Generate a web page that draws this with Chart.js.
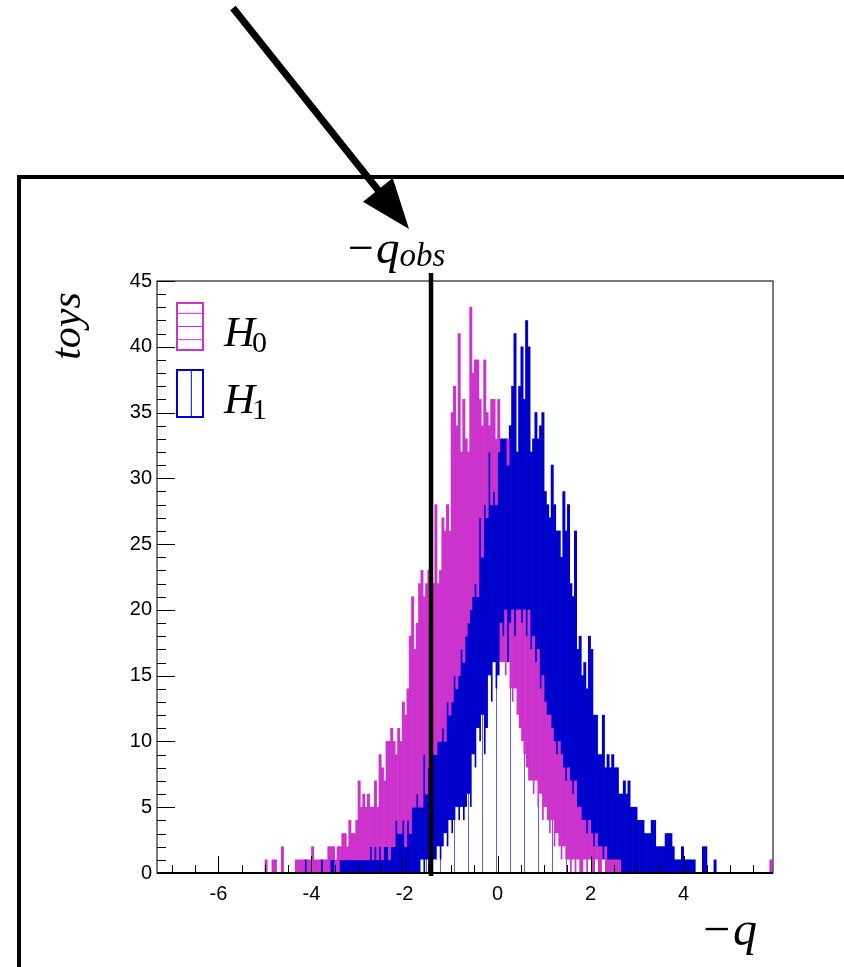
<!DOCTYPE html>
<html>
<head>
<meta charset="utf-8">
<title>toys vs -q</title>
<script src="https://cdn.jsdelivr.net/npm/chart.js@4.4.1/dist/chart.umd.min.js"></script>
<style>
  html, body { margin: 0; padding: 0; background: #fff; }
  #wrap { width: 844px; height: 967px; }
</style>
</head>
<body>
<div id="wrap"><canvas id="toyChart"></canvas></div>
<script>
// Bin width of the toy histograms (in -q)
const binWidth = 0.05;

// H0 toys, first bin starts at -5.00
const h0Start = -5.0;
const h0Counts = [
  1, 0, 0, 1, 1, 0, 0, 2, 0, 0, 0, 0, 0, 1, 1, 1, 1, 0, 1, 1,
  2, 1, 1, 1, 0, 1, 1, 2, 2, 2, 1, 2, 2, 3, 3, 2, 4, 3, 3, 4,
  7, 5, 6, 5, 6, 5, 5, 7, 5, 9, 8, 7, 10, 10, 11, 10, 9, 11, 10, 13,
  12, 14, 18, 21, 17, 19, 22, 23, 21, 22, 23, 24, 22, 28, 22, 23, 27, 26, 28, 26,
  35, 37, 34, 41, 32, 36, 33, 32, 43, 38, 39, 39, 36, 34, 39, 35, 34, 36, 36, 33,
  36, 19, 18, 20, 33, 19, 20, 18, 20, 20, 19, 20, 18, 20, 17, 18, 16, 17, 14, 15,
  13, 12, 12, 11, 10, 9, 10, 9, 8, 7, 8, 7, 6, 7, 5, 5, 4, 4, 3, 4,
  3, 2, 3, 2, 2, 1, 2, 1, 1, 1, 1, 1, 1
];
// lone H0 toy far out on the right
const h0LoneBins = [5.85];
const h0LoneCounts = [1];

// H1 toys, first bin starts at -4.30
const h1Start = -4.3;
const h1Counts = [
  0, 1, 1, 1, 0, 0, 0, 1, 0, 1, 1, 0, 1, 0, 1, 1, 1, 0, 1, 1,
  1, 1, 1, 1, 1, 1, 1, 1, 1, 1, 1, 2, 1, 2, 1, 2, 1, 2, 2, 1,
  2, 2, 4, 3, 3, 4, 2, 4, 3, 5, 5, 6, 5, 5, 9, 6, 8, 8, 9, 9,
  10, 10, 11, 10, 13, 12, 13, 15, 14, 15, 17, 16, 18, 19, 20, 21, 22, 21, 27, 24,
  28, 27, 32, 28, 29, 28, 32, 33, 33, 33, 31, 34, 37, 41, 32, 37, 40, 36, 42, 40,
  32, 33, 35, 33, 34, 35, 29, 28, 27, 31, 28, 26, 26, 24, 29, 26, 28, 22, 21, 26,
  17, 18, 15, 16, 14, 18, 17, 12, 12, 9, 9, 12, 8, 9, 8, 9, 8, 8, 6, 6,
  7, 6, 7, 5, 5, 5, 4, 4, 4, 3, 3, 3, 4, 4, 2, 2, 2, 2, 3, 3,
  3, 2, 1, 1, 1, 2, 1, 1, 1, 1, 1, 0, 0, 0, 2, 2, 0, 0, 0, 1
];

// unfilled (white) part under both curves, first bin starts at -1.70
const gapStart = -1.7;
const gapCounts = [
  0, 1, 0, 1, 0, 1, 1, 1, 2, 1, 2, 3, 2, 4, 3, 4, 5, 4, 5, 4,
  5, 6, 5, 9, 8, 11, 10, 12, 9, 11, 15, 13, 16, 14, 15, 16, 16, 15, 16, 14,
  13, 14, 12, 11, 10, 9, 8, 7, 7, 6, 7, 5, 6, 4, 5, 4, 3, 4, 2, 3,
  2, 1, 2, 1, 1, 0, 1, 0, 1, 0, 0, 1, 0, 1, 0, 0, 1, 0, 0, 1
];

const qObs = -1.43;
const xMin = -7.32, xMax = 5.92;
const xTickValues = [-6, -4, -2, 0, 2, 4];
const yTickValues = [0, 5, 10, 15, 20, 25, 30, 35, 40, 45];

const MAGENTA = '#cc33cc';
const BLUE = '#0000cc';

// bin index -> count
function toBins(start, counts) {
  const m = new Map();
  const k0 = Math.round(start / binWidth);
  counts.forEach((c, i) => m.set(k0 + i, c));
  return m;
}
const h0Bins = toBins(h0Start, h0Counts);
h0LoneBins.forEach((q, i) => h0Bins.set(Math.round(q / binWidth), h0LoneCounts[i]));
const h1Bins = toBins(h1Start, h1Counts);
const gapBins = toBins(gapStart, gapCounts);

const allKeys = [...h0Bins.keys(), ...h1Bins.keys(), ...gapBins.keys()];
const kLo = Math.min(...allKeys), kHi = Math.max(...allKeys);

// the lowest bar of a bin is painted on top: split every bin into visible pieces
const segGap = [], segH0 = [], segH1 = [];
for (let k = kLo; k <= kHi; k++) {
  const x = Math.round((k + 0.5) * binWidth * 1000) / 1000;
  const parts = [
    { key: 'gap', v: gapBins.get(k) || 0 },
    { key: 'h0', v: h0Bins.get(k) || 0 },
    { key: 'h1', v: h1Bins.get(k) || 0 }
  ].sort((a, b) => a.v - b.v);
  const out = {};
  let prev = 0;
  parts.forEach(p => {
    if (p.v > prev) { out[p.key] = [prev, p.v]; prev = p.v; }
    else out[p.key] = null;
  });
  segGap.push({ x: x, y: out.gap });
  segH0.push({ x: x, y: out.h0 });
  segH1.push({ x: x, y: out.h1 });
}

// thin vertical hatch lines seen inside the unfilled area
function hatchPattern() {
  const c = document.createElement('canvas');
  c.width = 14; c.height = 4;
  const g = c.getContext('2d');
  g.fillStyle = '#ffffff';
  g.fillRect(0, 0, 14, 4);
  g.fillStyle = 'rgba(40,40,210,0.75)';
  g.fillRect(6, 0, 1, 4);
  return g.createPattern(c, 'repeat');
}

Chart.defaults.font.family = "'Liberation Sans', Arial, sans-serif";
Chart.defaults.color = '#000';

const decorations = {
  id: 'decorations',
  beforeDraw(chart) {
    const ctx = chart.ctx;
    ctx.save();
    ctx.fillStyle = '#fff';
    ctx.fillRect(0, 0, chart.width, chart.height);
    ctx.restore();
  },
  afterDatasetsDraw(chart) {
    const ctx = chart.ctx;
    const a = chart.chartArea;
    const xs = chart.scales.x, ys = chart.scales.y;
    ctx.save();

    // frame
    ctx.strokeStyle = '#222';
    ctx.lineWidth = 1.2;
    ctx.strokeRect(a.left, a.top, a.right - a.left, a.bottom - a.top);

    // inward ticks
    ctx.lineWidth = 1;
    ctx.strokeStyle = '#000';
    ctx.beginPath();
    for (let v = 0; v <= 45; v++) {
      const y = Math.round(ys.getPixelForValue(v)) + 0.5;
      const len = v % 5 === 0 ? 18 : 9;
      ctx.moveTo(a.left, y); ctx.lineTo(a.left + len, y);
    }
    for (let v = -7; v <= 5.5; v += 0.5) {
      const x = Math.round(xs.getPixelForValue(v)) + 0.5;
      const len = v % 2 === 0 ? 17 : 8;
      ctx.moveTo(x, a.bottom); ctx.lineTo(x, a.bottom - len);
    }
    ctx.stroke();
    ctx.lineWidth = 2;
    ctx.beginPath();
    ctx.moveTo(a.left, a.bottom); ctx.lineTo(a.right, a.bottom);
    ctx.stroke();

    // observed value
    const xo = xs.getPixelForValue(qObs);
    ctx.lineWidth = 4.5;
    ctx.beginPath();
    ctx.moveTo(xo, a.top - 8);
    ctx.lineTo(xo, a.bottom + 3);
    ctx.stroke();

    // legend
    const entries = [
      { ds: chart.data.datasets[1], color: MAGENTA, hatch: 'h' },
      { ds: chart.data.datasets[2], color: BLUE, hatch: 'v' }
    ];
    entries.forEach((e, i) => {
      const bx = a.left + 20, by = a.top + 22 + i * 67, bw = 26, bh = 47;
      ctx.strokeStyle = e.color;
      ctx.lineWidth = 2;
      ctx.strokeRect(bx, by, bw, bh);
      ctx.lineWidth = 1;
      ctx.beginPath();
      if (e.hatch === 'h') {
        [0.22, 0.5, 0.78].forEach(f => { ctx.moveTo(bx, by + bh * f); ctx.lineTo(bx + bw, by + bh * f); });
      } else {
        ctx.moveTo(bx + bw * 0.55, by); ctx.lineTo(bx + bw * 0.55, by + bh);
      }
      ctx.stroke();
      ctx.fillStyle = '#000';
      ctx.textBaseline = 'alphabetic';
      ctx.font = 'italic 43px "Liberation Serif"';
      ctx.fillText(e.ds.label[0], bx + 47, by + 43);
      const w = ctx.measureText(e.ds.label[0]).width;
      ctx.font = '30px "Liberation Serif"';
      ctx.fillText(e.ds.label.slice(1), bx + 47 + w - 3, by + 49);
    });
    ctx.restore();
  },
  afterDraw(chart) {
    const ctx = chart.ctx;
    const xs = chart.scales.x;
    const xo = xs.getPixelForValue(qObs);
    ctx.save();

    // outer pad frame
    ctx.strokeStyle = '#000';
    ctx.lineWidth = 4;
    ctx.beginPath();
    ctx.moveTo(19, chart.height);
    ctx.lineTo(19, 177);
    ctx.lineTo(chart.width, 177);
    ctx.stroke();

    // arrow pointing to the observed value
    const tipX = xo - 22, tipY = 229, fromX = 233, fromY = 8;
    const dx = tipX - fromX, dy = tipY - fromY;
    const L = Math.hypot(dx, dy), ux = dx / L, uy = dy / L;
    const headLen = 50, headHalf = 19;
    const bx = tipX - ux * headLen, by = tipY - uy * headLen;
    ctx.lineWidth = 7;
    ctx.beginPath();
    ctx.moveTo(fromX, fromY);
    ctx.lineTo(bx + ux * 4, by + uy * 4);
    ctx.stroke();
    ctx.fillStyle = '#000';
    ctx.beginPath();
    ctx.moveTo(tipX, tipY);
    ctx.lineTo(bx - uy * headHalf, by + ux * headHalf);
    ctx.lineTo(bx + uy * headHalf, by - ux * headHalf);
    ctx.closePath();
    ctx.fill();

    // -q_obs label
    ctx.textBaseline = 'alphabetic';
    let tx = xo - 83;
    ctx.font = '46px "Liberation Serif"';
    ctx.fillText('\u2212', tx, 263);
    tx += ctx.measureText('\u2212').width + 2;
    ctx.font = 'italic 47px "Liberation Serif"';
    ctx.fillText('q', tx, 263);
    tx += ctx.measureText('q').width;
    ctx.font = 'italic 33px "Liberation Serif"';
    ctx.fillText('obs', tx, 266);

    // x axis title
    let qx = 703;
    ctx.font = '48px "Liberation Serif"';
    ctx.fillText('\u2212', qx, 945);
    qx += ctx.measureText('\u2212').width + 3;
    ctx.font = 'italic 48px "Liberation Serif"';
    ctx.fillText('q', qx, 945);

    // y axis title
    ctx.translate(80, 326);
    ctx.rotate(-Math.PI / 2);
    ctx.textAlign = 'center';
    ctx.font = 'italic 42px "Liberation Serif"';
    ctx.fillText('toys', 0, 0);
    ctx.restore();
  }
};

const barStyle = { borderWidth: 0, barPercentage: 1, categoryPercentage: 1, grouped: false };

new Chart(document.getElementById('toyChart'), {
  type: 'bar',
  data: {
    datasets: [
      Object.assign({ label: 'gap', data: segGap, backgroundColor: hatchPattern() }, barStyle),
      Object.assign({ label: 'H0', data: segH0, backgroundColor: MAGENTA }, barStyle),
      Object.assign({ label: 'H1', data: segH1, backgroundColor: BLUE }, barStyle)
    ]
  },
  options: {
    responsive: true,
    maintainAspectRatio: false,
    animation: false,
    layout: { padding: { top: 281, right: 71, left: 0, bottom: 0 } },
    plugins: { legend: { display: false }, tooltip: { enabled: false } },
    scales: {
      x: {
        type: 'linear',
        min: xMin,
        max: xMax,
        offset: false,
        grid: { display: false, drawTicks: false },
        border: { display: false },
        afterBuildTicks: s => { s.ticks = xTickValues.map(v => ({ value: v })); },
        afterFit: s => { s.height = 94; },
        ticks: { padding: 9, font: { size: 20 }, maxRotation: 0, autoSkip: false }
      },
      y: {
        min: 0,
        max: 45,
        grid: { display: false, drawTicks: false },
        border: { display: false },
        afterBuildTicks: s => { s.ticks = yTickValues.map(v => ({ value: v })); },
        afterFit: s => { s.width = 157; },
        ticks: { padding: 5, font: { size: 20 }, autoSkip: false }
      }
    }
  },
  plugins: [decorations]
});
</script>
</body>
</html>
